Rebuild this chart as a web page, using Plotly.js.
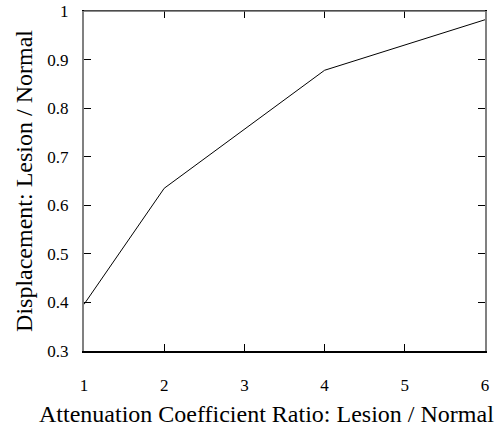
<!DOCTYPE html>
<html>
<head>
<meta charset="utf-8">
<script src="https://cdn.plot.ly/plotly-3.0.1.min.js"></script>
<style>html,body{margin:0;padding:0;background:#fff;}#chart{width:496px;height:428px;}</style>
</head>
<body>
<div id="chart"></div>
<script>
const attenuationRatio = [1, 2, 4, 6];
const displacementRatio = [0.396, 0.635, 0.878, 0.982];
const xTickVals = [1, 2, 3, 4, 5, 6];
const yTickVals = [0.3, 0.4, 0.5, 0.6, 0.7, 0.8, 0.9, 1];
const yTickText = ['0.3', '0.4', '0.5', '0.6', '0.7', '0.8', '0.9', '1'];
const xTitle = 'Attenuation Coefficient Ratio: Lesion / Normal';
const yTitle = 'Displacement: Lesion / Normal';

const font = "'Liberation Serif', 'Times New Roman', serif";

Plotly.newPlot('chart', [{
  x: attenuationRatio,
  y: displacementRatio,
  type: 'scatter',
  mode: 'lines',
  line: {color: '#000', width: 1},
  hoverinfo: 'skip'
}], {
  width: 496,
  height: 428,
  margin: {l: 84, r: 11, t: 10.5, b: 77},
  paper_bgcolor: '#fff',
  plot_bgcolor: '#fff',
  showlegend: false,
  font: {family: font, color: '#000', size: 17},
  xaxis: {
    range: [1, 6],
    tickvals: xTickVals,
    ticks: 'inside',
    ticklen: 7,
    tickwidth: 1,
    tickcolor: '#000',
    showline: true,
    linecolor: '#000',
    linewidth: 1.5,
    mirror: 'ticks',
    showgrid: false,
    zeroline: false,
    ticklabelstandoff: 18,
    tickfont: {family: font, size: 17, color: '#000'},
    title: {text: ''}
  },
  yaxis: {
    range: [0.3, 1],
    tickvals: yTickVals,
    ticktext: yTickText,
    ticks: 'inside',
    ticklen: 7,
    tickwidth: 1,
    tickcolor: '#000',
    showline: true,
    linecolor: '#808080',
    linewidth: 2,
    mirror: 'ticks',
    showgrid: false,
    zeroline: false,
    ticklabelstandoff: 10,
    tickfont: {family: font, size: 17, color: '#000'},
    title: {text: yTitle, font: {family: font, size: 24, color: '#000'}, standoff: 8}
  },
  annotations: [{
    text: xTitle, xref: 'paper', yref: 'paper', x: 0.454, y: -0.185,
    xanchor: 'center', yanchor: 'middle', showarrow: false,
    font: {family: font, size: 24, color: '#000'}
  }],
  shapes: [{
    type: 'line', xref: 'paper', yref: 'paper', x0: 0, x1: 1, y0: 1, y1: 1,
    line: {color: '#666', width: 1.5}, layer: 'above'
  }]
}, {displayModeBar: false, staticPlot: true});
</script>
</body>
</html>
